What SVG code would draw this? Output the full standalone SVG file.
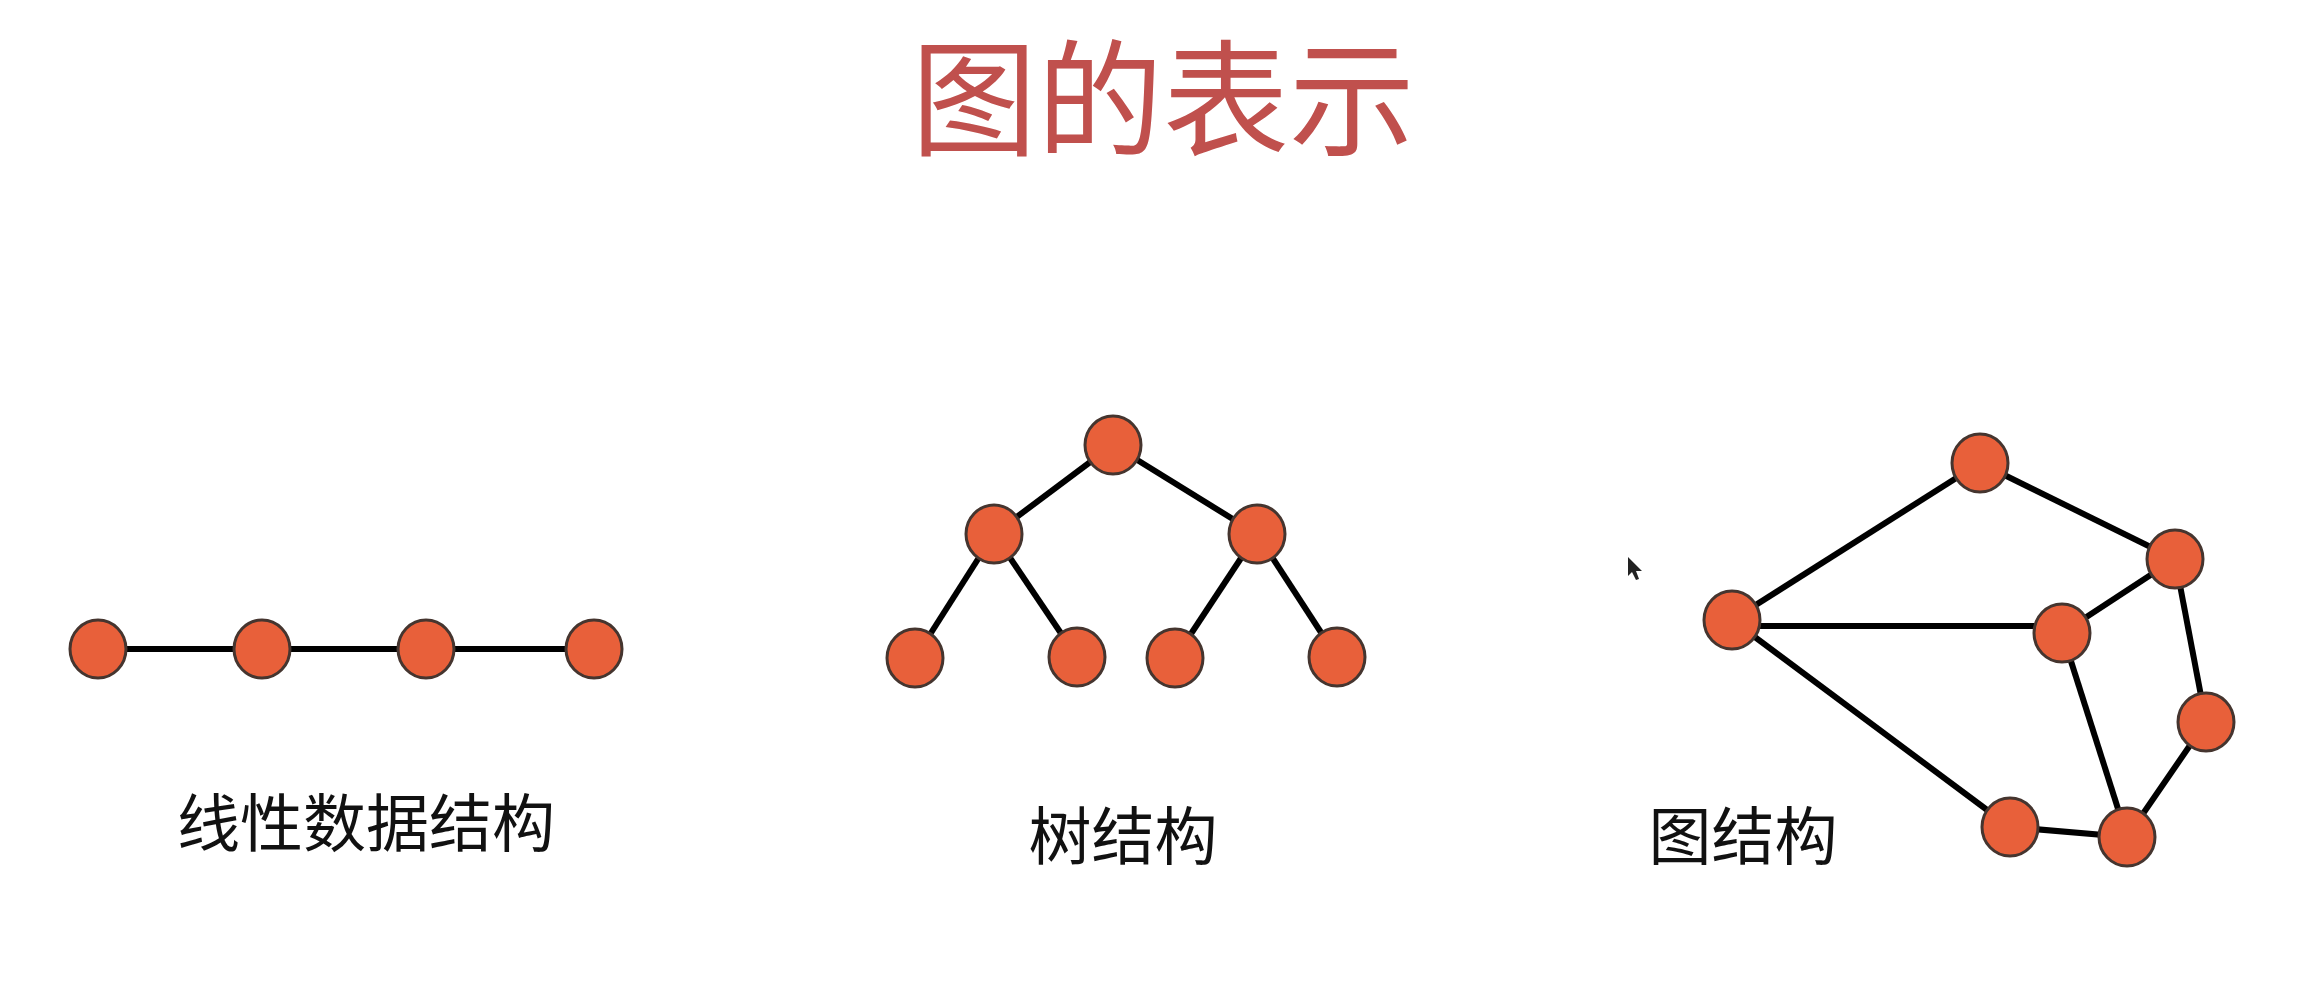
<svg xmlns="http://www.w3.org/2000/svg" width="2304" height="1006" viewBox="0 0 2304 1006">
<style>
.node{fill:#E8603A;stroke:#45352f;stroke-width:3}
.edge{stroke:#000;stroke-width:6;fill:none}
.title{font-family:"Noto Sans CJK SC","Noto Sans",sans-serif;font-size:126px;fill:#C0504D;text-anchor:middle}
.label{font-family:"Noto Sans CJK SC","Noto Sans",sans-serif;font-size:63px;fill:#111;text-anchor:middle}
</style>
<rect width="2304" height="1006" fill="#fff"/>
<text class="title" x="1163" y="146">图的表示</text>
<g id="connectors">
<line class="edge" x1="98" y1="649" x2="594" y2="649"/>
<line class="edge" x1="1113" y1="445" x2="994" y2="534"/>
<line class="edge" x1="1113" y1="445" x2="1257" y2="534"/>
<line class="edge" x1="994" y1="534" x2="915" y2="658"/>
<line class="edge" x1="994" y1="534" x2="1077" y2="657"/>
<line class="edge" x1="1257" y1="534" x2="1175" y2="658"/>
<line class="edge" x1="1257" y1="534" x2="1337" y2="657"/>
<line class="edge" x1="1980" y1="463" x2="1732" y2="620"/>
<line class="edge" x1="1980" y1="463" x2="2175" y2="559"/>
<line class="edge" x1="1732" y1="626" x2="2062" y2="626"/>
<line class="edge" x1="1732" y1="620" x2="2010" y2="827"/>
<line class="edge" x1="2062" y1="633" x2="2175" y2="559"/>
<line class="edge" x1="2062" y1="633" x2="2127" y2="837"/>
<line class="edge" x1="2175" y1="559" x2="2206" y2="722"/>
<line class="edge" x1="2206" y1="722" x2="2127" y2="837"/>
<line class="edge" x1="2010" y1="827" x2="2127" y2="837"/>
</g>
<g id="linear-nodes">
<g id="l1"><ellipse class="node" cx="98" cy="649" rx="28" ry="29"/></g>
<g id="l2"><ellipse class="node" cx="262" cy="649" rx="28" ry="29"/></g>
<g id="l3"><ellipse class="node" cx="426" cy="649" rx="28" ry="29"/></g>
<g id="l4"><ellipse class="node" cx="594" cy="649" rx="28" ry="29"/></g>
</g>
<g id="tree-nodes">
<g id="t1"><ellipse class="node" cx="1113" cy="445" rx="28" ry="29"/></g>
<g id="t2"><ellipse class="node" cx="994" cy="534" rx="28" ry="29"/></g>
<g id="t3"><ellipse class="node" cx="1257" cy="534" rx="28" ry="29"/></g>
<g id="t4"><ellipse class="node" cx="915" cy="658" rx="28" ry="29"/></g>
<g id="t5"><ellipse class="node" cx="1077" cy="657" rx="28" ry="29"/></g>
<g id="t6"><ellipse class="node" cx="1175" cy="658" rx="28" ry="29"/></g>
<g id="t7"><ellipse class="node" cx="1337" cy="657" rx="28" ry="29"/></g>
</g>
<g id="graph-nodes">
<g id="g1"><ellipse class="node" cx="1980" cy="463" rx="28" ry="29"/></g>
<g id="g2"><ellipse class="node" cx="2175" cy="559" rx="28" ry="29"/></g>
<g id="g3"><ellipse class="node" cx="1732" cy="620" rx="28" ry="29"/></g>
<g id="g4"><ellipse class="node" cx="2062" cy="633" rx="28" ry="29"/></g>
<g id="g5"><ellipse class="node" cx="2206" cy="722" rx="28" ry="29"/></g>
<g id="g6"><ellipse class="node" cx="2010" cy="827" rx="28" ry="29"/></g>
<g id="g7"><ellipse class="node" cx="2127" cy="837" rx="28" ry="29"/></g>
</g>
<text class="label" x="366" y="846">线性数据结构</text>
<text class="label" x="1123" y="859">树结构</text>
<text class="label" x="1743" y="859">图结构</text>
<polygon points="1628,557 1628,576 1632,572 1636,580 1639,579 1636,571 1642,571" fill="#222"/>
</svg>
